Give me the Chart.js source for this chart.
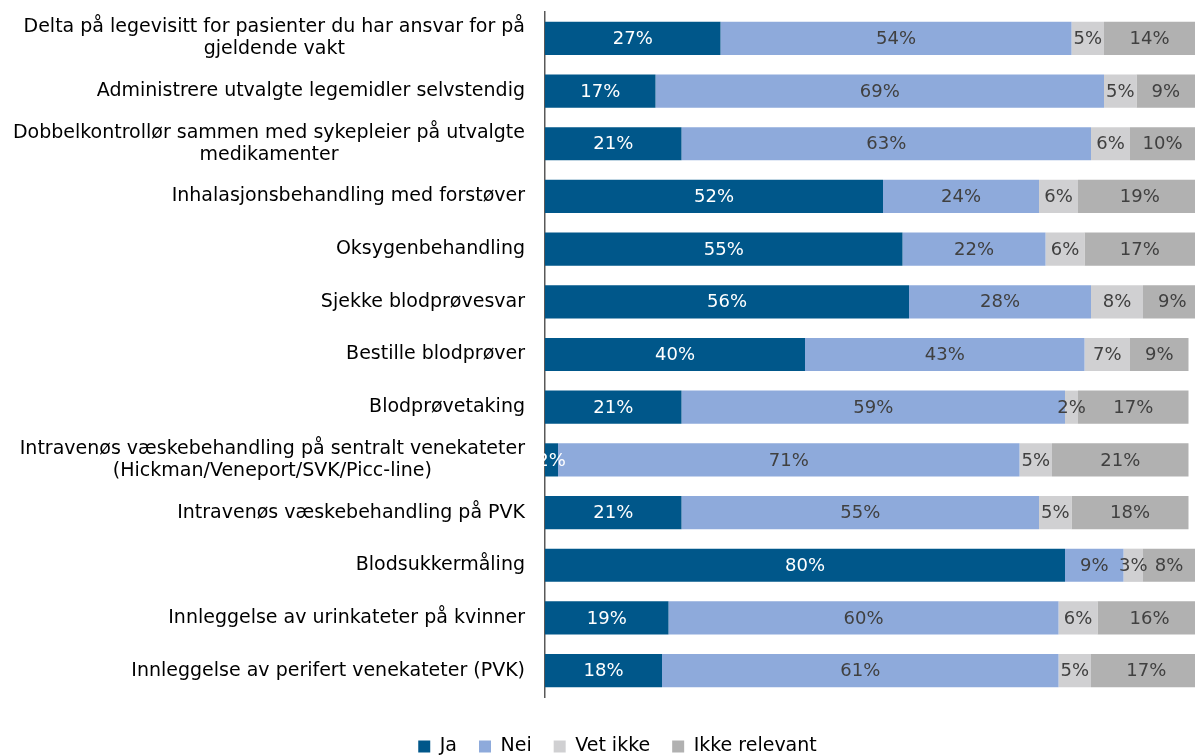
<!DOCTYPE html>
<html>
<head>
<meta charset="utf-8">
<script src="https://cdn.jsdelivr.net/npm/chart.js@4"></script>
<style>
  html, body { margin: 0; padding: 0; background: #fff; }
</style>
</head>
<body>
<canvas id="myChart" width="1197" height="755"></canvas>
<script>
const categories = [
    ["Delta på legevisitt for pasienter du har ansvar for på", "gjeldende vakt"],
    ["Administrere utvalgte legemidler selvstendig"],
    ["Dobbelkontrollør sammen med sykepleier på utvalgte", "medikamenter"],
    ["Inhalasjonsbehandling med forstøver"],
    ["Oksygenbehandling"],
    ["Sjekke blodprøvesvar"],
    ["Bestille blodprøver"],
    ["Blodprøvetaking"],
    ["Intravenøs væskebehandling på sentralt venekateter", "(Hickman/Veneport/SVK/Picc-line)"],
    ["Intravenøs væskebehandling på PVK"],
    ["Blodsukkermåling"],
    ["Innleggelse av urinkateter på kvinner"],
    ["Innleggelse av perifert venekateter (PVK)"]
];

const ja = [27, 17, 21, 52, 55, 56, 40, 21, 2, 21, 80, 19, 18];
const nei = [54, 69, 63, 24, 22, 28, 43, 59, 71, 55, 9, 60, 61];
const vetIkke = [5, 5, 6, 6, 6, 8, 7, 2, 5, 5, 3, 6, 5];
const ikkeRelevant = [14, 9, 10, 19, 17, 9, 9, 17, 21, 18, 8, 16, 17];

const seriesNames = ["Ja", "Nei", "Vet ikke", "Ikke relevant"];
const seriesColors = ["#00578a", "#8eaadb", "#d0d0d2", "#b1b1b1"];
const labelColors = ["#ffffff", "#404040", "#404040", "#404040"];

const FONT = "DejaVu Sans";

// tick labels drawn by hand so that two-line labels get centred lines
const yLabels = {
    id: "yLabels",
    afterDraw(chart) {
        const c = chart.ctx;
        const scale = chart.scales.y;
        c.save();
        c.font = "19px " + FONT;
        c.fillStyle = "#000";
        c.textBaseline = "middle";
        c.textAlign = "center";
        categories.forEach((lines, i) => {
            const y = scale.getPixelForTick(i);
            let maxW = 0;
            lines.forEach(l => { maxW = Math.max(maxW, c.measureText(l).width); });
            const cx = 525 - maxW / 2;
            const lh = 22;
            lines.forEach((l, k) => {
                c.fillText(l, cx, y + (k - (lines.length - 1) / 2) * lh);
            });
        });
        c.restore();
    }
};

const barLabels = {
    id: "barLabels",
    afterDatasetsDraw(chart) {
        const c = chart.ctx;
        c.save();
        c.font = "18px " + FONT;
        c.textAlign = "center";
        c.textBaseline = "middle";
        chart.data.datasets.forEach((ds, d) => {
            const meta = chart.getDatasetMeta(d);
            c.fillStyle = labelColors[d];
            meta.data.forEach((bar, i) => {
                c.fillText(ds.data[i] + "%", (bar.x + bar.base) / 2, bar.y + 1);
            });
        });
        c.restore();
    }
};

const ctx = document.getElementById('myChart');
const chart = new Chart(ctx, {
    type: 'bar',
    data: {
        labels: categories,
        datasets: [ja, nei, vetIkke, ikkeRelevant].map((vals, i) => ({
            label: seriesNames[i],
            data: vals,
            backgroundColor: seriesColors[i],
            borderWidth: 0,
            categoryPercentage: 1,
            barPercentage: 0.63
        }))
    },
    options: {
        indexAxis: 'y',
        responsive: false,
        animation: false,
        layout: {
            padding: { top: 12, right: 2, left: 40, bottom: -11 }
        },
        scales: {
            x: {
                stacked: true,
                min: 0,
                max: 100,
                display: true,
                ticks: { display: false },
                grid: { display: false, drawTicks: false },
                border: { display: false },
                afterFit(scale) { scale.height = 18; }
            },
            y: {
                stacked: true,
                ticks: { display: false },
                grid: { display: false, drawTicks: false },
                border: { display: true, color: "#595959", width: 1.5 },
                afterFit(scale) { scale.width = 505; }
            }
        },
        plugins: {
            legend: {
                position: 'bottom',
                labels: {
                    boxWidth: 12,
                    boxHeight: 12,
                    padding: 22,
                    color: "#000",
                    font: { family: FONT, size: 19 }
                }
            },
            tooltip: { enabled: false }
        }
    },
    plugins: [yLabels, barLabels]
});
</script>
</body>
</html>
